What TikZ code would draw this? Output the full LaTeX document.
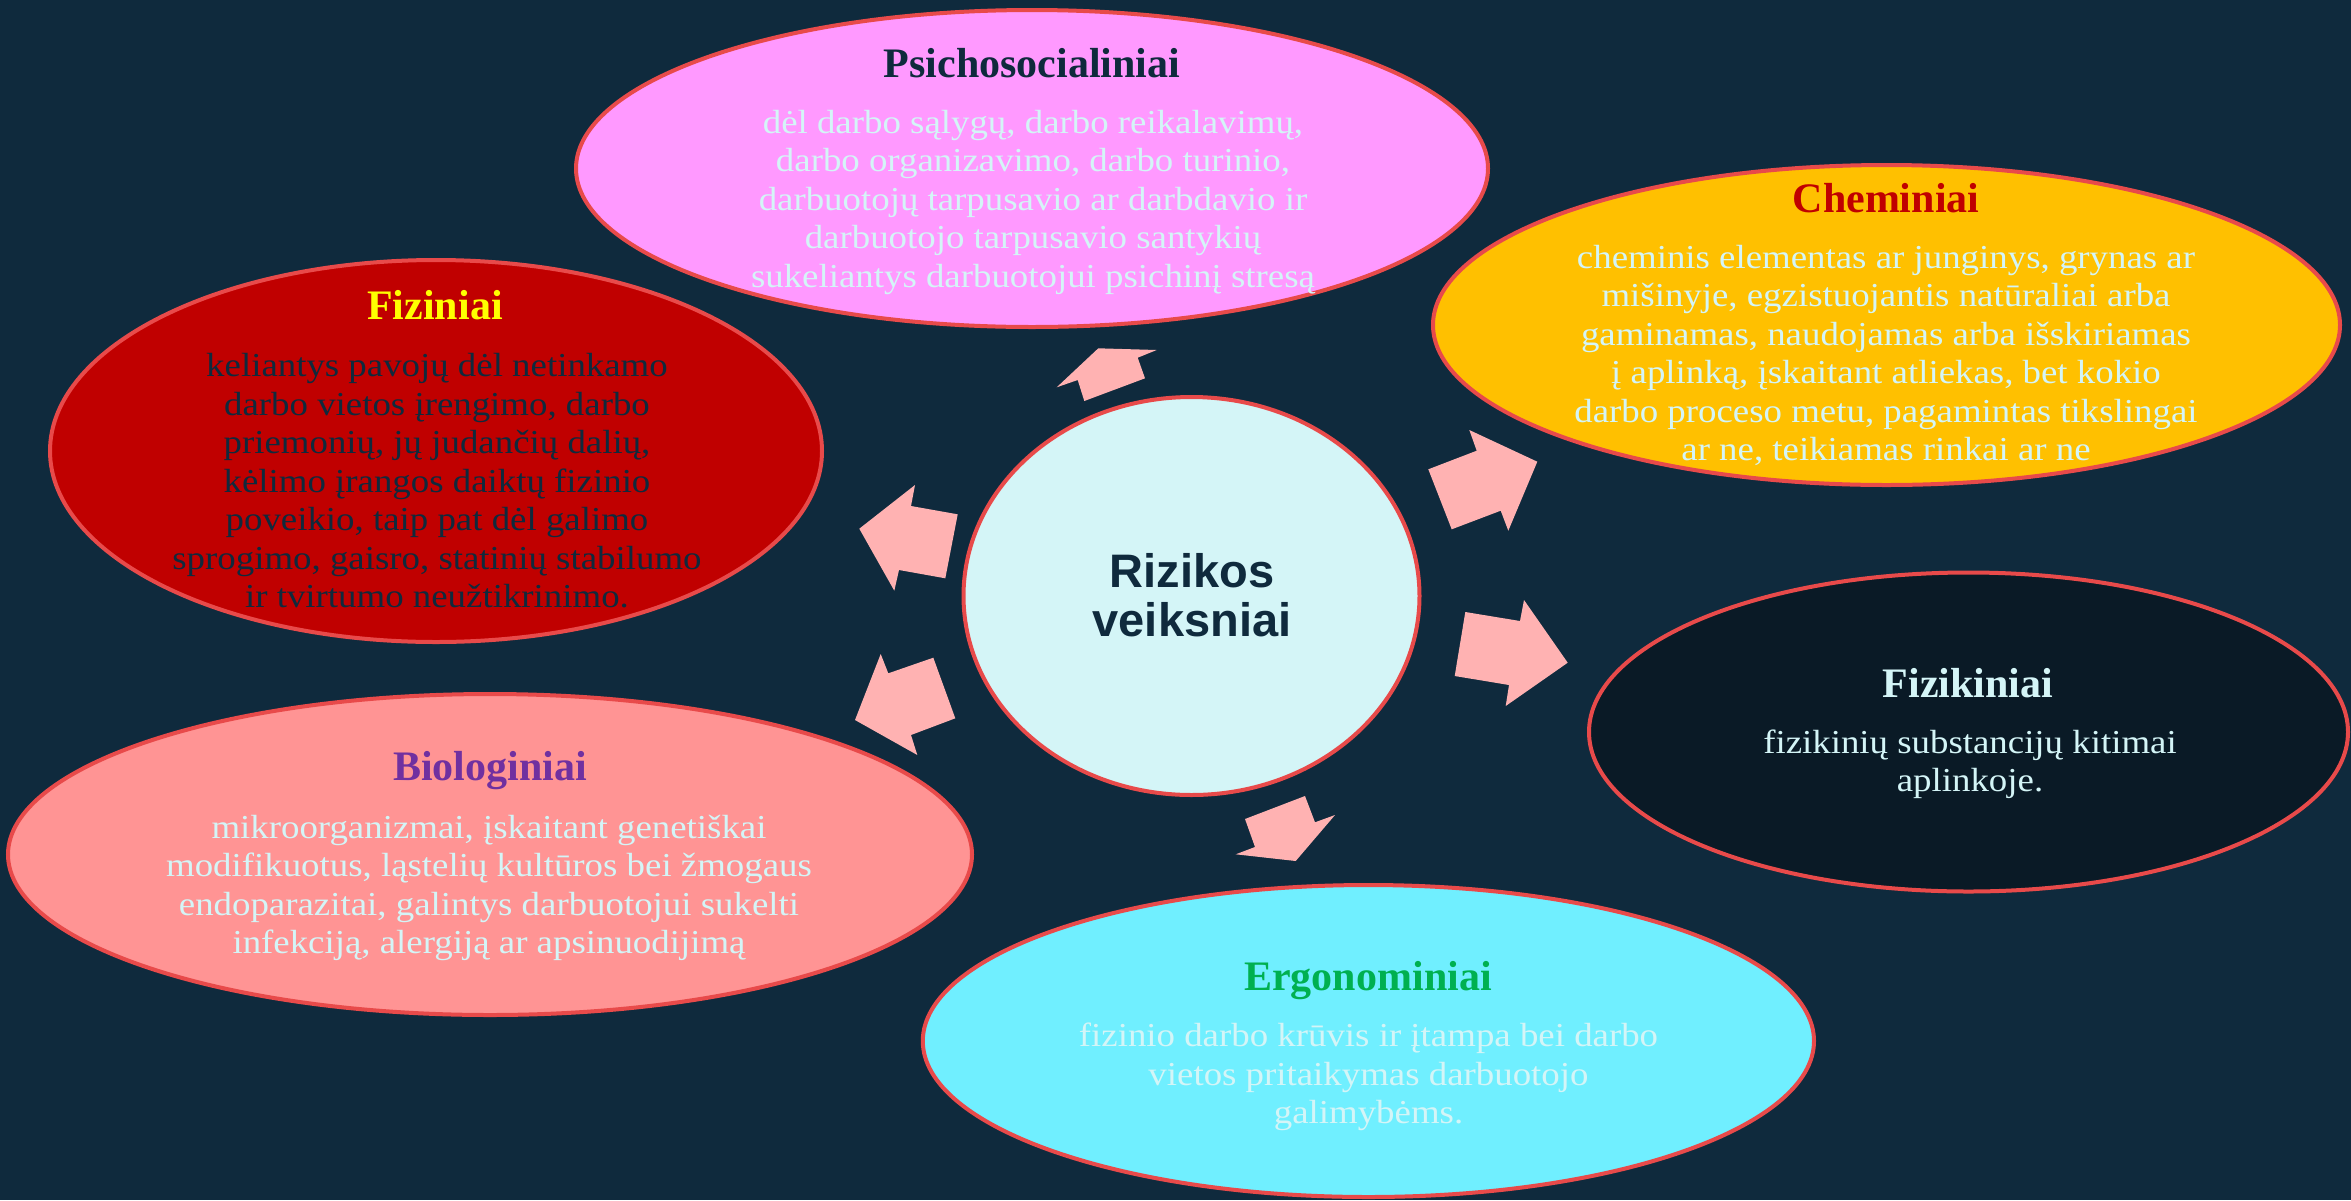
\documentclass[tikz,border=0pt]{standalone}
\usepackage{fontspec}
\setmainfont{Liberation Serif}
\newfontfamily\bodyfont{Liberation Serif}[FakeStretch=1.1]
\newfontfamily\ctrfont{Liberation Sans}
\usetikzlibrary{shapes.geometric}
\definecolor{bg}{HTML}{0F2A3D}
\definecolor{edge}{HTML}{E84A4A}
\definecolor{psyfill}{HTML}{FF99FF}
\definecolor{chemfill}{HTML}{FFC000}
\definecolor{fizfill}{HTML}{C00000}
\definecolor{fizkfill}{HTML}{0A1A26}
\definecolor{biofill}{HTML}{FF9494}
\definecolor{ergofill}{HTML}{70EFFF}
\definecolor{lightc}{HTML}{D4F5F7}
\definecolor{arrpink}{HTML}{FFB2B2}
\definecolor{ttlred}{HTML}{C00000}
\definecolor{ttlyellow}{HTML}{FFFF00}
\definecolor{ttlpurple}{HTML}{7030A0}
\definecolor{ttlgreen}{HTML}{00B050}
\newcommand{\lines}[1]{\begin{tabular}[t]{@{}c@{}}#1\end{tabular}}
\begin{document}
\begin{tikzpicture}[x=0.5pt,y=-0.5pt,
  blob/.style={ellipse, draw=edge, line width=2pt, inner sep=0pt},
  ttl/.style={anchor=base, inner sep=0pt, font=\fontsize{21}{24}\selectfont\bfseries},
  bdy/.style={anchor=base, inner sep=0pt, font=\bodyfont\fontsize{16.75}{19.25}\selectfont},
  blockarrow/.style={fill=arrpink}]
\fill[bg] (0,0) rectangle (2351,1200);
\useasboundingbox (0,0) rectangle (2351,1200);
% ellipses
\node[blob, fill=psyfill, minimum width=456pt, minimum height=158.5pt] (psy) at (1032,168.5) {};
\node[blob, fill=chemfill, minimum width=453.5pt, minimum height=160pt] (chem) at (1886.5,325) {};
\node[blob, fill=fizfill, minimum width=386pt, minimum height=191pt] (fizi) at (436,451) {};
\node[blob, fill=lightc, minimum width=228pt, minimum height=199pt] (ctr) at (1191.5,596) {};
\node[blob, fill=fizkfill, minimum width=379.5pt, minimum height=159.5pt] (fizk) at (1968.5,732) {};
\node[blob, fill=biofill, minimum width=482pt, minimum height=160.5pt] (bio) at (490,854.5) {};
\node[blob, fill=ergofill, minimum width=445.6pt, minimum height=156pt] (ergo) at (1368.4,1041) {};
% block arrows
\fill[blockarrow] (1056.7,387.3) -- (1098.3,348.3) -- (1156.7,350) -- (1137.7,357.7) -- (1145,378.3) -- (1084.3,401) -- (1077.7,380) -- cycle;
\fill[blockarrow] (1469.3,430) -- (1537.3,461.7) -- (1508.3,530.7) -- (1500.7,510.7) -- (1451.7,529.3) -- (1428.3,469.3) -- (1476.7,450.7) -- cycle;
\fill[blockarrow] (1524,600) -- (1567.7,662.7) -- (1505.7,706) -- (1509,685) -- (1454.7,676) -- (1465.3,612) -- (1520,621) -- cycle;
\fill[blockarrow] (1245,819) -- (1305,796) -- (1315,822.3) -- (1335,815) -- (1295.7,861) -- (1235.7,854.3) -- (1255,847) -- cycle;
\fill[blockarrow] (880.7,654) -- (888.3,673.3) -- (933.3,657.7) -- (955.3,718.3) -- (911,735) -- (917.3,755) -- (855,720) -- cycle;
\fill[blockarrow] (915,485) -- (911,506) -- (957.7,514.3) -- (945.3,578.3) -- (899,570) -- (894.3,590.7) -- (859.3,528.7) -- cycle;
% centre text
\node[anchor=base, inner sep=0pt, text=bg, font=\ctrfont\bfseries\fontsize{23.5}{24.5}\selectfont] (ctrt) at (1192,587) {\lines{Rizikos\\veiksniai}};
% titles
\node[ttl, text=bg] (psyt) at (1032,77) {Psichosocialiniai};
\node[ttl, text=ttlred] (chemt) at (1886,212.7) {Cheminiai};
\node[ttl, text=ttlyellow] (fizit) at (435,319) {Fiziniai};
\node[ttl, text=lightc] (fizkt) at (1968,697.3) {Fizikiniai};
\node[ttl, text=ttlpurple] (biot) at (490,780.7) {Biologiniai};
\node[ttl, text=ttlgreen] (ergot) at (1368,990) {Ergonominiai};
% bodies
\node[bdy, text=lightc] (psyb) at (1033,133.3) {\lines{dėl darbo sąlygų, darbo reikalavimų,\\darbo organizavimo, darbo turinio,\\darbuotojų tarpusavio ar darbdavio ir\\darbuotojo tarpusavio santykių\\sukeliantys darbuotojui psichinį stresą}};
\node[bdy, text=lightc] (chemb) at (1886,268.3) {\lines{cheminis elementas ar junginys, grynas ar\\mišinyje, egzistuojantis natūraliai arba\\gaminamas, naudojamas arba išskiriamas\\į aplinką, įskaitant atliekas, bet kokio\\darbo proceso metu, pagamintas tikslingai\\ar ne, teikiamas rinkai ar ne}};
\node[bdy, text=bg] (fizib) at (437,376.7) {\lines{keliantys pavojų dėl netinkamo\\darbo vietos įrengimo, darbo\\priemonių, jų judančių dalių,\\kėlimo įrangos daiktų fizinio\\poveikio, taip pat dėl galimo\\sprogimo, gaisro, statinių stabilumo\\ir tvirtumo neužtikrinimo.}};
\node[bdy, text=lightc] (fizkb) at (1970,753.3) {\lines{fizikinių substancijų kitimai\\aplinkoje.}};
\node[bdy, text=lightc] (biob) at (489,838.3) {\lines{mikroorganizmai, įskaitant genetiškai\\modifikuotus, ląstelių kultūros bei žmogaus\\endoparazitai, galintys darbuotojui sukelti\\infekciją, alergiją ar apsinuodijimą}};
\node[bdy, text=lightc] (ergob) at (1368.5,1046.7) {\lines{fizinio darbo krūvis ir įtampa bei darbo\\vietos pritaikymas darbuotojo\\galimybėms.}};
\end{tikzpicture}
\end{document}
